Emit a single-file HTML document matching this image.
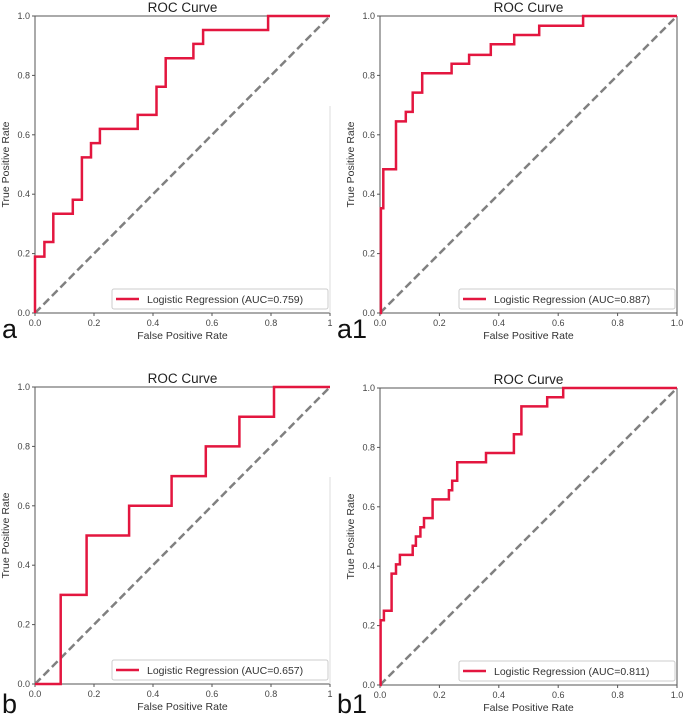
<!DOCTYPE html>
<html><head><meta charset="utf-8">
<style>
html,body{margin:0;padding:0;background:#fff;}
svg{display:block;font-family:"Liberation Sans",sans-serif;}
</style></head>
<body>
<svg id="fig" width="685" height="716" viewBox="0 0 685 716" xmlns="http://www.w3.org/2000/svg"></svg>
<script>
// Panel data (FPR, TPR step points)
const fprA = [0,0,0.032,0.032,0.062,0.062,0.128,0.128,0.159,0.159,0.19,0.19,0.22,0.22,0.348,0.348,0.412,0.412,0.443,0.443,0.537,0.537,0.57,0.57,0.79,0.79,1];
const tprA = [0,0.19,0.19,0.239,0.239,0.334,0.334,0.381,0.381,0.524,0.524,0.572,0.572,0.62,0.62,0.667,0.667,0.762,0.762,0.858,0.858,0.906,0.906,0.953,0.953,1,1];
const fprA1 = [0,0.003,0.003,0.011,0.011,0.054,0.054,0.087,0.087,0.11,0.11,0.142,0.142,0.241,0.241,0.3,0.3,0.373,0.373,0.452,0.452,0.536,0.536,0.684,0.684,1];
const tprA1 = [0,0,0.353,0.353,0.484,0.484,0.645,0.645,0.677,0.677,0.742,0.742,0.807,0.807,0.839,0.839,0.869,0.869,0.905,0.905,0.936,0.936,0.967,0.967,1,1];
const fprB = [0,0.087,0.087,0.175,0.175,0.319,0.319,0.463,0.463,0.579,0.579,0.693,0.693,0.81,0.81,1];
const tprB = [0,0,0.3,0.3,0.5,0.5,0.6,0.6,0.7,0.7,0.8,0.8,0.9,0.9,1,1];
const fprB1 = [0,0.002,0.002,0.013,0.013,0.039,0.039,0.054,0.054,0.067,0.067,0.11,0.11,0.121,0.121,0.136,0.136,0.148,0.148,0.177,0.177,0.232,0.232,0.243,0.243,0.26,0.26,0.357,0.357,0.451,0.451,0.476,0.476,0.563,0.563,0.617,0.617,1];
const tprB1 = [0,0,0.218,0.218,0.25,0.25,0.375,0.375,0.406,0.406,0.438,0.438,0.469,0.469,0.5,0.5,0.531,0.531,0.562,0.562,0.625,0.625,0.656,0.656,0.688,0.688,0.75,0.75,0.781,0.781,0.844,0.844,0.938,0.938,0.969,0.969,1,1];
const aucLabels = ["0.759","0.887","0.657","0.811"];
const panelLetters = ["a","a1","b","b1"];
const tickValues = [0,0.2,0.4,0.6,0.8,1.0];
const xTickLabelsCut = ["0.0","0.2","0.4","0.6","0.8","1"];
const xTickLabelsFull = ["0.0","0.2","0.4","0.6","0.8","1.0"];
const yTickLabels = ["0.0","0.2","0.4","0.6","0.8","1.0"];

const panels = [
  {l:35,r:330,t:16,b:313,fpr:fprA,tpr:tprA,cut:true,lx:2,ly:338},
  {l:380,r:677,t:16,b:313,fpr:fprA1,tpr:tprA1,cut:false,lx:337,ly:338},
  {l:35,r:330,t:387,b:684,fpr:fprB,tpr:tprB,cut:true,lx:2,ly:713},
  {l:380,r:677,t:388,b:685,fpr:fprB1,tpr:tprB1,cut:false,lx:337,ly:713}
];
const NS="http://www.w3.org/2000/svg";
const svg=document.getElementById('fig');
function mk(tag,attrs,parent){const e=document.createElementNS(NS,tag);for(const k in attrs)e.setAttribute(k,attrs[k]);(parent||svg).appendChild(e);return e;}

panels.forEach((p,i)=>{
  const g=mk('g',{});
  
  
  const xs=v=>p.l+v*(p.r-p.l), ys=v=>p.b-v*(p.b-p.t);
  const t=mk('text',{x:(p.l+p.r)/2,y:p.t-4,'text-anchor':'middle','font-size':13.5,fill:'#222'},g);
  t.textContent='ROC Curve';
  
  
  // frame
  const fg=mk('g',{stroke:'#555','stroke-width':1},g);
  
  
  mk('line',{x1:p.l,y1:p.t,x2:p.r,y2:p.t},fg);
  mk('line',{x1:p.l,y1:p.b,x2:p.r,y2:p.b},fg);
  mk('line',{x1:p.l,y1:p.t,x2:p.l,y2:p.b},fg);
  if(p.cut){
    mk('line',{x1:p.r,y1:p.t+90,x2:p.r,y2:p.b,stroke:'#ddd','stroke-width':1},g);
  } else {
    mk('line',{x1:p.r,y1:p.t,x2:p.r,y2:p.b},fg);
  }
  const xl=p.cut?xTickLabelsCut:xTickLabelsFull;
  tickValues.forEach((v,k)=>{
    mk('line',{x1:xs(v),y1:p.b,x2:xs(v),y2:p.b+3,stroke:'#555'},g);
    const xt=mk('text',{x:xs(v),y:p.b+13,'text-anchor':'middle','font-size':9,fill:'#444'},g);
    xt.textContent=xl[k];
    
    
    mk('line',{x1:p.l-3,y1:ys(v),x2:p.l,y2:ys(v),stroke:'#555'},g);
    const yt=mk('text',{x:p.l-5,y:ys(v)+3,'text-anchor':'end','font-size':9,fill:'#444'},g);
    yt.textContent=yTickLabels[k];
    
    
  });
  const xa=mk('text',{x:(p.l+p.r)/2,y:p.b+26,'text-anchor':'middle','font-size':10.5,fill:'#333'},g);
  xa.textContent='False Positive Rate';
  
  
  const ya=mk('text',{x:0,y:0,'text-anchor':'middle','font-size':10.5,fill:'#333',transform:`translate(${p.l-26},${(p.t+p.b)/2}) rotate(-90)`},g);
  ya.textContent='True Positive Rate';
  
  
  const dg=mk('line',{x1:xs(0),y1:ys(0),x2:xs(1),y2:ys(1),stroke:'#808080','stroke-width':2.5,'stroke-dasharray':'8,4'},g);
  
  
  const pts=p.fpr.map((f,k)=>xs(f).toFixed(1)+','+ys(p.tpr[k]).toFixed(1)).join(' ');
  const c=mk('polyline',{points:pts,fill:'none',stroke:'#e3163f','stroke-width':2.5},g);
  
  
  const lg=mk('g',{},g);
  
  
  const lx=p.r-218, ly=p.b-24;
  mk('rect',{x:lx,y:ly,width:216,height:20,rx:2,fill:'#fff',stroke:'#ccc'},lg);
  mk('line',{x1:lx+4,y1:ly+10,x2:lx+27,y2:ly+10,stroke:'#e3163f','stroke-width':2.5},lg);
  const lt=mk('text',{x:lx+35,y:ly+14,'font-size':10.5,fill:'#333'},lg);
  lt.textContent='Logistic Regression (AUC='+aucLabels[i]+')';
  const pl=mk('text',{x:p.lx,y:p.ly,'font-size':27,fill:'#111'},g);
  pl.textContent=panelLetters[i];
  
  
});
</script>
</body></html>
